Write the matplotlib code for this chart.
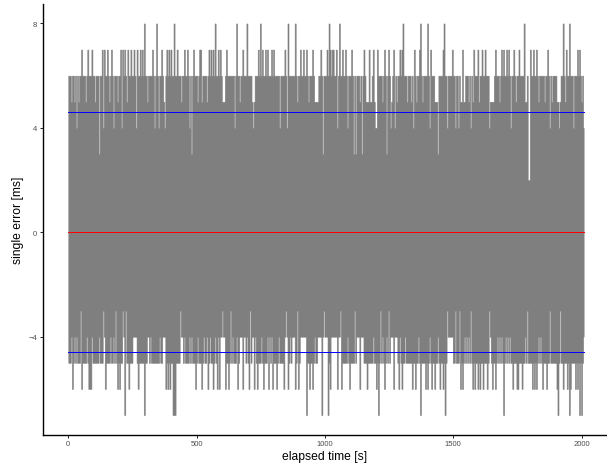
import numpy as np
import matplotlib
matplotlib.use("Agg")
import matplotlib.pyplot as plt

plt.rcParams['font.family'] = ['Liberation Sans', 'DejaVu Sans']

# sampling of the envelope [s], about one pixel per sample
dt = 4.0
t_end = 2010.0

# upper envelope: level 6 unless listed here (times in s)
up8 = [295, 342, 413, 572, 657, 696, 747, 856, 883, 1016, 1055, 1304, 1371,
       1398, 1464, 1776, 1928, 1951]
up7 = [53, 77, 92, 131, 139, 151, 170, 205, 213, 221, 232, 244, 256, 268, 279,
       287, 330, 365, 385, 393, 400, 424, 451, 466, 486, 513, 517, 548, 556,
       564, 583, 591, 618, 681, 739, 755, 767, 774, 790, 802, 845, 903, 915,
       926, 954, 985, 1008, 1020, 1028, 1032, 1043, 1067, 1078, 1102, 1152,
       1172, 1187, 1205, 1234, 1250, 1269, 1293, 1300, 1347, 1367, 1413, 1460,
       1495, 1534, 1581, 1596, 1612, 1624, 1663, 1690, 1698, 1709, 1717, 1737,
       1756, 1799, 1811, 1822, 1869, 1939, 1982, 1994]
up5 = [11, 26, 42, 69, 104, 159, 194, 229, 307, 326, 373, 412, 439, 478, 502,
       521, 540, 599, 603, 607, 646, 669, 716, 724, 794, 891, 934, 961, 965,
       969, 973, 1082, 1090, 1137, 1160, 1164, 1168, 1176, 1180, 1192, 1222,
       1261, 1281, 1320, 1336, 1355, 1379, 1429, 1433, 1437, 1527, 1531, 1539,
       1546, 1558, 1562, 1570, 1574, 1578, 1600, 1643, 1647, 1651, 1655, 1678,
       1745, 1779, 1783, 1834, 1857, 1885, 1904, 1908, 1916, 1935, 1998, 2002]
up4 = [30, 135, 178, 209, 264, 334, 353, 377, 470, 650, 720, 778, 825, 853,
       950, 1047, 1086, 1196, 1199, 1254, 1273, 1343, 1408, 1476, 1507, 1519,
       1566, 1639, 1725, 1877, 1912, 1970, 2006]
up3 = [120, 482, 993, 1110, 1121, 1145, 1238, 1441]
up2 = [1106, 1791, 1795]

# lower envelope: level -5 unless listed here
lo4 = [11, 14, 22, 26, 34, 73, 92, 120, 139, 163, 178, 182, 186, 217, 252,
       256, 260, 264, 307, 311, 314, 318, 322, 357, 369, 373, 377, 435, 439,
       443, 451, 470, 482, 498, 502, 526, 540, 552, 572, 583, 591, 595, 599,
       603, 607, 622, 638, 654, 669, 673, 677, 681, 685, 689, 696, 708, 716,
       720, 728, 751, 774, 778, 782, 786, 790, 794, 821, 845, 849, 853, 856,
       864, 872, 876, 880, 903, 907, 911, 915, 919, 923, 930, 961, 973, 977,
       981, 985, 989, 993, 997, 1000, 1004, 1008, 1024, 1028, 1032, 1036,
       1039, 1043, 1047, 1051, 1055, 1059, 1086, 1090, 1094, 1117, 1125, 1129,
       1133, 1141, 1145, 1148, 1187, 1215, 1218, 1222, 1226, 1230, 1242, 1254,
       1258, 1261, 1265, 1273, 1277, 1281, 1293, 1312, 1363, 1410, 1441, 1480,
       1484, 1488, 1492, 1496, 1546, 1550, 1554, 1558, 1562, 1570, 1643, 1670,
       1678, 1686, 1694, 1706, 1714, 1722, 1779, 1830, 1838, 1846, 1877, 1916,
       2010]
lo3 = [46, 135, 186, 213, 225, 435, 599, 630, 708, 849, 891, 954, 997, 1059,
       1117, 1164, 1215, 1250, 1476, 1507, 1523, 1566, 1639, 1787, 1877, 1916]
lo6 = [18, 53, 80, 85, 88, 143, 194, 198, 201, 237, 272, 381, 389, 396, 498,
       521, 543, 565, 581, 587, 611, 624, 659, 682, 702, 724, 734, 760, 780,
       797, 812, 838, 857, 883, 896, 939, 952, 1020, 1046, 1065, 1098, 1137,
       1163, 1202, 1234, 1267, 1286, 1300, 1339, 1351, 1390, 1402, 1417, 1429,
       1448, 1460, 1527, 1538, 1577, 1585, 1597, 1604, 1616, 1632, 1651, 1663,
       1733, 1749, 1752, 1768, 1807, 1818, 1826, 1850, 1865, 1904, 1928, 1943,
       1955, 1974, 1986]
lo7 = [221, 295, 408, 412, 416, 926, 987, 1013, 1206, 1371, 1468, 1698, 1908,
       1951, 1990, 1998]

mean_err = 0.0
limit = 4.6

t = np.arange(0, t_end + 0.1, dt)
n = len(t)

def idx(times):
    return np.clip(np.round(np.array(times) / dt).astype(int), 0, n - 1)

hi = np.full(n, 6.0)
for lvl, times in [(5, up5), (4, up4), (3, up3), (2, up2), (7, up7), (8, up8)]:
    hi[idx(times)] = lvl

lo = np.full(n, -5.0)
for lvl, times in [(-4, lo4), (-3, lo3), (-6, lo6), (-7, lo7)]:
    lo[idx(times)] = lvl

fig = plt.figure(figsize=(6.07, 4.64), dpi=100)
ax = fig.add_axes([43 / 607, 28.4 / 464, 564 / 607, 430.7 / 464])

ax.fill_between(t, lo, hi, step='mid', facecolor='#7f7f7f',
                edgecolor='#7f7f7f', linewidth=0.4)
ax.plot([t[0], t_end], [mean_err, mean_err], color='red', lw=0.7)
ax.plot([t[0], t_end], [limit, limit], color='blue', lw=0.7)
ax.plot([t[0], t_end], [-limit, -limit], color='blue', lw=0.7)

ax.set_xlim(-98.6, 2099)
ax.set_ylim(-7.75, 8.75)
ax.set_xticks([0, 500, 1000, 1500, 2000])
ax.set_yticks([-4, 0, 4, 8])

for s in ['top', 'right']:
    ax.spines[s].set_visible(False)
for s in ['left', 'bottom']:
    ax.spines[s].set_linewidth(1.0)

ax.tick_params(length=2.2, width=0.6, labelsize=5.5, labelcolor='#4d4d4d', pad=2)
ax.set_xlabel('elapsed time [s]', fontsize=8.7, labelpad=1.5)
ax.set_ylabel('single error [ms]', fontsize=8.7, labelpad=3)

fig.savefig('out.png', dpi=100)
